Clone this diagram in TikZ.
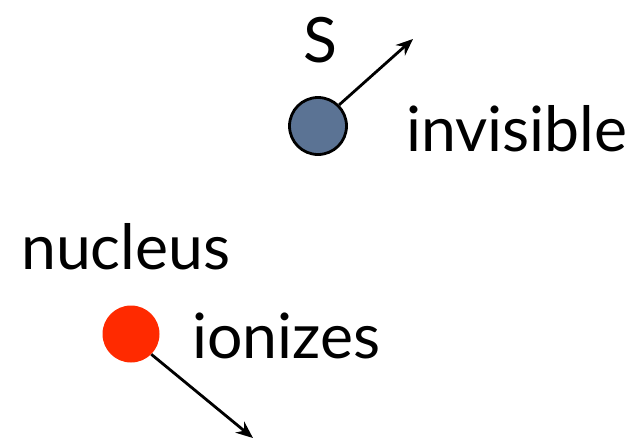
\documentclass[tikz,border=0pt]{standalone}
\usepackage{fontspec}
\setmainfont{Lato}
\usetikzlibrary{arrows.meta}
\definecolor{slateblue}{HTML}{5B7394}
\definecolor{nucred}{HTML}{FF2A00}
\tikzset{
  lbl/.style={anchor=base west, inner sep=0pt, font=\fontsize{62.5}{75}\selectfont},
  arr/.style={draw=black, line width=2.8pt, -{Stealth[length=17pt,width=14pt]}},
}
\begin{document}
\begin{tikzpicture}[x=1pt,y=-1pt]
\useasboundingbox (0,0) rectangle (637,440);
\node[circle, draw=black, line width=2.8pt, fill=slateblue, minimum size=57pt, inner sep=0pt] (s) at (318,126) {};
\node[circle, fill=nucred, minimum size=57pt, inner sep=0pt] (n) at (131,334) {};
\coordinate (sEnd) at (413,39);
\coordinate (nEnd) at (253,438);
\draw[arr] (s.45) -- (sEnd);
\draw[arr] (n.-45) -- (nEnd);
\node[lbl] (sl) at (303,62) {S};
\node[lbl] (inv) at (406,151) {invisible};
\node[lbl] (nuc) at (21,269) {nucleus};
\node[lbl] (ion) at (192,358) {ionizes};
\end{tikzpicture}
\end{document}
